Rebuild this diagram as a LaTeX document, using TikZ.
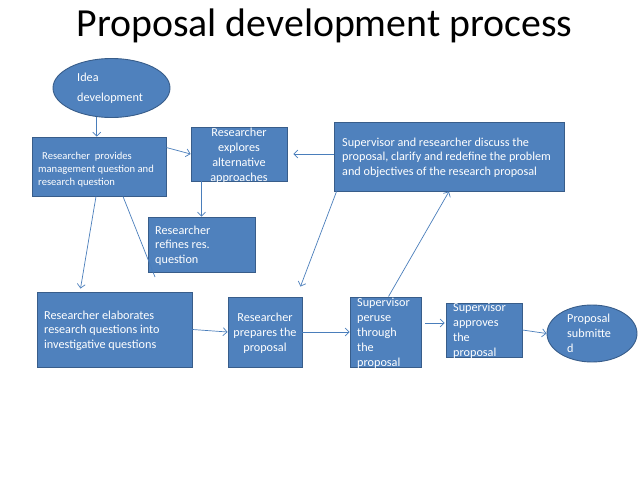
\documentclass[tikz,border=0pt]{standalone}
\usepackage{fontspec}
\setmainfont{Carlito}
\usepackage{tikz}
\usetikzlibrary{arrows.meta,shapes.geometric,positioning,calc}
\definecolor{propfill}{HTML}{4F81BD}
\definecolor{propline}{HTML}{385D8A}
\definecolor{proparrow}{HTML}{4A7EBB}

\begin{document}
\begin{tikzpicture}[
  x=1pt, y=-1pt,
  box/.style={draw=propline, fill=propfill, line width=0.9pt, inner sep=0pt},
  oval/.style={box, ellipse},
  txt/.style={text=white, inner sep=0pt, align=left,
              font=\fontsize{12.2}{14.5}\selectfont},
  arrow/.style={-{Straight Barb[length=4pt, width=8pt]}, draw=proparrow,
                line width=0.7pt},
  link/.style={draw=proparrow, line width=0.7pt},
]
\useasboundingbox[fill=white] (0,0) rectangle (638,479);

%% ── Title ─────────────────────────────────────────────────────────────────
\node[font=\fontsize{39.8}{44}\selectfont, anchor=base] (title) at (324.5,36)
  {Proposal development process};

%% ── Shapes ────────────────────────────────────────────────────────────────
\node[oval, minimum width=117, minimum height=59] (idea) at (111.5,88) {};
\node[box, minimum width=134, minimum height=59]  (prov) at (99,166.5) {};
\node[box, minimum width=96, minimum height=54]   (expl) at (239,154) {};
\node[box, minimum width=230, minimum height=69]  (disc) at (449,156.5) {};
\node[box, minimum width=107, minimum height=55]  (refn) at (201.5,244.5) {};
\node[box, minimum width=155, minimum height=75]  (elab) at (114.5,329.5) {};
\node[box, minimum width=74, minimum height=70]   (prep) at (265,332) {};
\node[box, minimum width=71, minimum height=70]   (peru) at (385.5,332) {};
\node[box, minimum width=76, minimum height=54]   (appr) at (484,330) {};
\node[oval, minimum width=90, minimum height=57]  (subm) at (592,333.5) {};

%% ── Texts ─────────────────────────────────────────────────────────────────
\node[txt, anchor=west, font=\fontsize{12.2}{19.5}\selectfont]
  (idea-t) at (77,88) {Idea\\development};
\node[txt, anchor=west, font=\fontsize{10.6}{13}\selectfont]
  (prov-t) at (38,170) {\hspace{4pt}Researcher\ \ provides\\management question and\\research question};
\node[txt, align=center, font=\fontsize{12.2}{15}\selectfont]
  (expl-t) at (239,155.5) {Researcher\\explores\\alternative\\approaches};
\node[txt, anchor=west]
  (disc-t) at (342,157.5) {Supervisor and researcher discuss the\\proposal, clarify and redefine the problem\\and objectives of the research proposal};
\node[txt, anchor=west]
  (refn-t) at (155,245.5) {Researcher\\refines res.\\question};
\node[txt, anchor=west]
  (elab-t) at (44,330.5) {Researcher elaborates\\research questions into\\investigative questions};
\node[txt, align=center, font=\fontsize{12.2}{15}\selectfont]
  (prep-t) at (265,333) {Researcher\\prepares the\\proposal};
\node[txt, anchor=west, font=\fontsize{12.2}{15}\selectfont]
  (peru-t) at (357,333) {Supervisor\\peruse\\through\\the\\proposal};
\node[txt, anchor=west, font=\fontsize{12.2}{15}\selectfont]
  (appr-t) at (453,330.5) {Supervisor\\approves\\the\\proposal};
\node[txt, anchor=west, font=\fontsize{12.2}{15}\selectfont]
  (subm-t) at (567,333) {Proposal\\submitte\\d};

%% ── Connectors ────────────────────────────────────────────────────────────
% idea -> management / research question
\draw[arrow] (idea.243) -- (idea.243 |- prov.north);

% question -> alternatives, discussion -> alternatives
\draw[arrow] ($(prov.north east)+(0,11)$) -- (expl.west);
\draw[arrow] (disc.west |- expl.east) -- ($(expl.east)+(6,0)$);

% alternatives -> refine
\draw[arrow] (refn.north |- expl.south) -- (refn.north);

% question -> elaborate, plus the loose line
\coordinate (tail) at (155,277);
\draw[arrow] ($(prov.south)+(-3,0)$) -- ($(elab.north)+(-34,-3)$);
\draw[link] ($(prov.south)+(24,0)$) -- (tail);

% discussion -> prepare
\draw[arrow] ($(disc.south west)+(3,0)$) -- ($(prep.north east)+(-2,-10)$);

% bottom row
\draw[arrow] (elab.east) -- (prep.west);
\draw[arrow] (prep.east) -- (peru.west);
\draw[arrow] ($(peru.east)+(4,-9)$) -- ($(appr.west)+(-1,-7)$);
\draw[arrow] (appr.east) -- (subm.west);

% peruse -> discussion
\draw[arrow] ($(peru.north)+(3,0)$) -- (disc.south);

\end{tikzpicture}
\end{document}
